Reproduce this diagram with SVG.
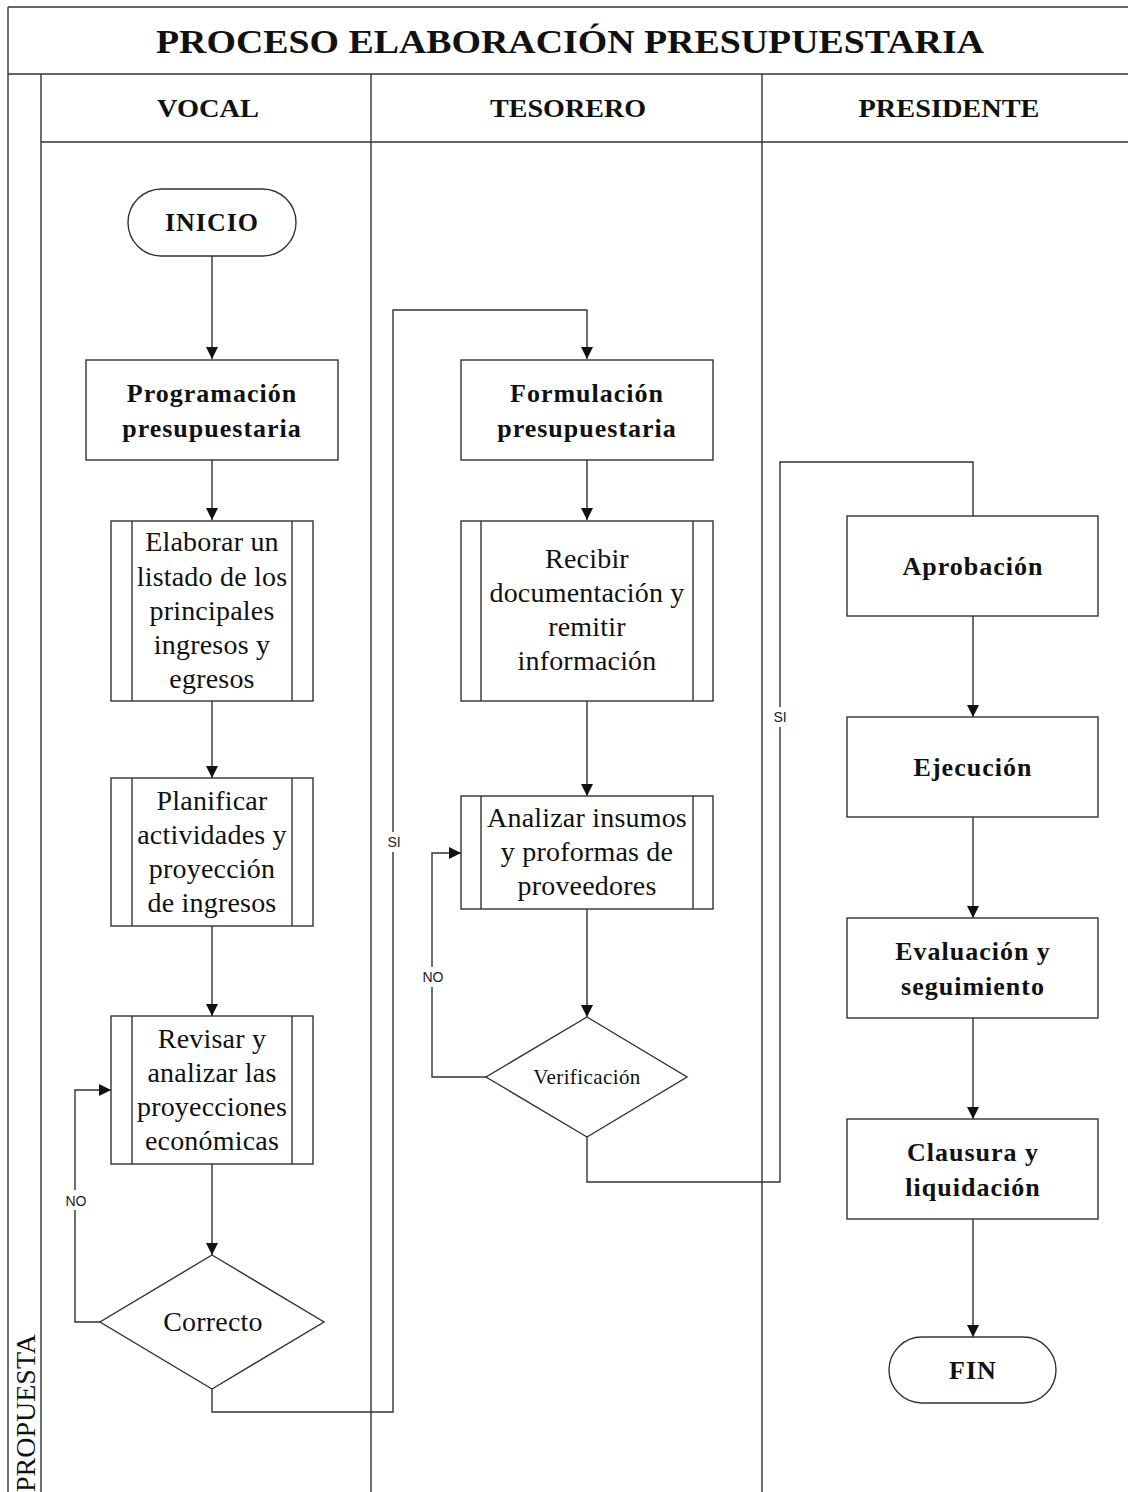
<svg xmlns="http://www.w3.org/2000/svg" width="1128" height="1492" viewBox="0 0 1128 1492">
<defs>
<marker id="arr" markerWidth="12" markerHeight="12" refX="10" refY="5" orient="auto" markerUnits="userSpaceOnUse" viewBox="0 0 10 10">
<path d="M0,0 L10,5 L0,10 z" fill="#111"/>
</marker>
<style>
.ln{fill:none;stroke:#333;stroke-width:1.4}
.box{fill:#fff;stroke:#333;stroke-width:1.4}
.con{fill:none;stroke:#333;stroke-width:1.4}
.ca{fill:none;stroke:#333;stroke-width:1.4;marker-end:url(#arr)}
.t{font-family:"Liberation Serif","Times New Roman",serif;fill:#111;text-anchor:middle}
.b{font-weight:bold;font-size:26px;letter-spacing:1px}
.r{font-size:28px;letter-spacing:0.2px}
.h{font-weight:bold;font-size:25px}
.lbl{font-family:"Liberation Sans",Arial,sans-serif;font-size:14px;fill:#222;text-anchor:middle}
</style>
</defs>
<rect width="1128" height="1492" fill="#fff"/>
<g id="frame">
<path class="ln" d="M8,7 H1128 M8,7 V1492 M8,74 H1128 M41,74 V1492 M41,142 H1128 M371,74 V1492 M762,74 V1492"/>
<text class="t" x="570" y="53" font-weight="bold" font-size="33" textLength="828" lengthAdjust="spacingAndGlyphs">PROCESO ELABORACIÓN PRESUPUESTARIA</text>
<text class="t h" x="208" y="117" textLength="102" lengthAdjust="spacingAndGlyphs">VOCAL</text>
<text class="t h" x="568" y="117" textLength="156" lengthAdjust="spacingAndGlyphs">TESORERO</text>
<text class="t h" x="949" y="117" textLength="181" lengthAdjust="spacingAndGlyphs">PRESIDENTE</text>
<text class="t" x="0" y="0" font-size="28" style="text-anchor:start" transform="translate(35,1492) rotate(-90)">PROPUESTA</text>
</g>
<g id="connectors">
<path class="ca" d="M212,256 V359"/>
<path class="ca" d="M212,460 V520"/>
<path class="ca" d="M212,701 V778"/>
<path class="ca" d="M212,926 V1016"/>
<path class="ca" d="M212,1164 V1255"/>
<path class="ca" d="M100,1322 H75 V1090 H111"/>
<path class="ca" d="M212,1389 V1412 H393 V310 H587 V359"/>
<path class="ca" d="M587,460 V520"/>
<path class="ca" d="M587,701 V796"/>
<path class="ca" d="M587,909 V1017"/>
<path class="ca" d="M486,1077 H432 V853 H461"/>
<path class="con" d="M587,1137 V1182 H780 V462 H973 V516"/>
<path class="ca" d="M973,616 V717"/>
<path class="ca" d="M973,817 V918"/>
<path class="ca" d="M973,1018 V1119"/>
<path class="ca" d="M973,1219 V1337"/>
<rect x="64" y="1190" width="24" height="20" fill="#fff"/>
<text class="lbl" x="76" y="1206">NO</text>
<rect x="385" y="832" width="18" height="20" fill="#fff"/>
<text class="lbl" x="394" y="847">SI</text>
<rect x="421" y="967" width="24" height="20" fill="#fff"/>
<text class="lbl" x="433" y="982">NO</text>
<rect x="771" y="707" width="18" height="20" fill="#fff"/>
<text class="lbl" x="780" y="722">SI</text>
</g>
<g id="inicio">
<rect class="box" x="128" y="189" width="168" height="67" rx="33.5"/>
<text class="t b" x="212" y="231">INICIO</text>
</g>
<g id="programacion">
<rect class="box" x="86" y="360" width="252" height="100"/>
<text class="t b" x="212" y="402">Programación</text>
<text class="t b" x="212" y="437">presupuestaria</text>
</g>
<g id="elaborar">
<rect class="box" x="111" y="521" width="202" height="180"/>
<path class="ln" d="M132,521 V701 M292,521 V701"/>
<text class="t r" x="212" y="551">Elaborar un</text>
<text class="t r" x="212" y="586">listado de los</text>
<text class="t r" x="212" y="620">principales</text>
<text class="t r" x="212" y="654">ingresos y</text>
<text class="t r" x="212" y="688">egresos</text>
</g>
<g id="planificar">
<rect class="box" x="111" y="778" width="202" height="148"/>
<path class="ln" d="M132,778 V926 M292,778 V926"/>
<text class="t r" x="212" y="810">Planificar</text>
<text class="t r" x="212" y="844">actividades y</text>
<text class="t r" x="212" y="878">proyección</text>
<text class="t r" x="212" y="912">de ingresos</text>
</g>
<g id="revisar">
<rect class="box" x="111" y="1016" width="202" height="148"/>
<path class="ln" d="M132,1016 V1164 M292,1016 V1164"/>
<text class="t r" x="212" y="1048">Revisar y</text>
<text class="t r" x="212" y="1082">analizar las</text>
<text class="t r" x="212" y="1116">proyecciones</text>
<text class="t r" x="212" y="1150">económicas</text>
</g>
<g id="correcto">
<path class="box" d="M212,1255 L324,1322 L212,1389 L100,1322 z"/>
<text class="t r" x="213" y="1331">Correcto</text>
</g>
<g id="formulacion">
<rect class="box" x="461" y="360" width="252" height="100"/>
<text class="t b" x="587" y="402">Formulación</text>
<text class="t b" x="587" y="437">presupuestaria</text>
</g>
<g id="recibir">
<rect class="box" x="461" y="521" width="252" height="180"/>
<path class="ln" d="M481,521 V701 M693,521 V701"/>
<text class="t r" x="587" y="568">Recibir</text>
<text class="t r" x="587" y="602">documentación y</text>
<text class="t r" x="587" y="636">remitir</text>
<text class="t r" x="587" y="670">información</text>
</g>
<g id="analizar">
<rect class="box" x="461" y="796" width="252" height="113"/>
<path class="ln" d="M481,796 V909 M693,796 V909"/>
<text class="t r" x="587" y="827">Analizar insumos</text>
<text class="t r" x="587" y="861">y proformas de</text>
<text class="t r" x="587" y="895">proveedores</text>
</g>
<g id="verificacion">
<path class="box" d="M587,1017 L687,1077 L587,1137 L486,1077 z"/>
<text class="t" x="587" y="1084" font-size="21" letter-spacing="0.4">Verificación</text>
</g>
<g id="aprobacion">
<rect class="box" x="847" y="516" width="251" height="100"/>
<text class="t b" x="973" y="575" letter-spacing="2">Aprobación</text>
</g>
<g id="ejecucion">
<rect class="box" x="847" y="717" width="251" height="100"/>
<text class="t b" x="973" y="776">Ejecución</text>
</g>
<g id="evaluacion">
<rect class="box" x="847" y="918" width="251" height="100"/>
<text class="t b" x="973" y="960">Evaluación y</text>
<text class="t b" x="973" y="995">seguimiento</text>
</g>
<g id="clausura">
<rect class="box" x="847" y="1119" width="251" height="100"/>
<text class="t b" x="973" y="1161">Clausura y</text>
<text class="t b" x="973" y="1196">liquidación</text>
</g>
<g id="fin">
<rect class="box" x="889" y="1337" width="167" height="66" rx="33"/>
<text class="t b" x="973" y="1379">FIN</text>
</g>
</svg>
